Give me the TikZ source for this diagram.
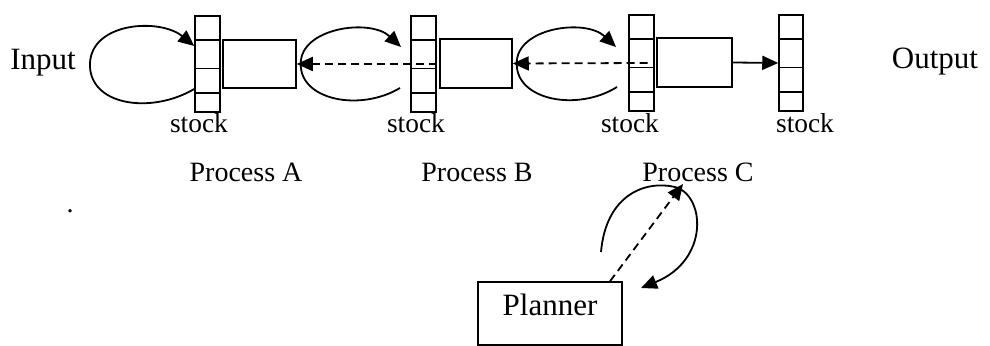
\documentclass[tikz,border=0pt]{standalone}
\usepackage{fontspec}
\setmainfont{Liberation Serif}
\usetikzlibrary{arrows.meta,calc}
\begin{document}
\begin{tikzpicture}[x=0.5pt,y=-0.5pt,
  stockbox/.style={draw,line width=0.75pt,minimum width=12.5pt,minimum height=48pt,inner sep=0pt},
  procbox/.style={draw,line width=0.75pt,inner sep=0pt},
  biglabel/.style={font=\fontsize{15.5}{18}\selectfont,inner sep=0pt},
  proclabel/.style={font=\fontsize{14}{17}\selectfont,inner sep=0pt},
  stocklabel/.style={font=\fontsize{13.7}{16}\selectfont,inner sep=0pt},
  flow/.style={line width=0.9pt,-{Triangle[length=8pt,width=7pt]}},
  dashflow/.style={flow,dash pattern=on 4pt off 2.5pt}]
\useasboundingbox (0,0) rectangle (990,346);

% stock buffers
\node[stockbox] (s1) at (207.5,64) {};
\node[stockbox] (s2) at (423.5,64) {};
\node[stockbox] (s3) at (641.5,63) {};
\node[stockbox,minimum width=12pt] (s4) at (791,63) {};
\foreach \s in {s1,s2,s3,s4}
  \foreach \f in {0.255,0.545,0.8}
    \draw[line width=0.75pt] ($(\s.north west)!\f!(\s.south west)$) -- ($(\s.north east)!\f!(\s.south east)$);

% process boxes
\node[procbox,minimum width=36.5pt,minimum height=24pt] (boxA) at (259.5,64) {};
\node[procbox,minimum width=36pt,minimum height=24.5pt] (boxB) at (476,63.5) {};
\node[procbox,minimum width=37.5pt,minimum height=24.5pt] (boxC) at (694.5,62.5) {};

% planner
\node[procbox,minimum width=72pt,minimum height=31.5pt] (planner) at (550,313.5) {};
\node[biglabel] (plannertext) at (550,305) {Planner};

% labels
\node[biglabel] (input) at (43,63) {Input};
\node[biglabel] (output) at (935,62) {Output};
\node[stocklabel] (st1) at (199,123) {stock};
\node[stocklabel] (st2) at (416,123) {stock};
\node[stocklabel] (st3) at (630,123) {stock};
\node[stocklabel] (st4) at (805,123) {stock};
\node[proclabel] (pA) at (246,172) {Process A};
\node[proclabel] (pB) at (477,172) {Process B};
\node[proclabel] (pC) at (698,172) {Process C};
\node[proclabel] (dot) at (70,211) {.};

% free ends of the feedback loops
\coordinate (abS) at (400,88);
\coordinate (abE) at (401,47);
\coordinate (bcS) at (617,87);
\coordinate (bcE) at (616,47);
\coordinate (pS) at (601,252);
\coordinate (pE) at (641,288);
\coordinate (tipC) at (683,184);

% material flow into process A
\draw[flow] ([yshift=-12.5pt]s1.west) .. controls (150,115) and (88,105) .. (90,63)
  .. controls (92,22) and (160,18) .. ([yshift=9pt]s1.west);
% loop between A and B
\draw[flow] (abS) .. controls (360,112) and (300,100) .. ([xshift=2pt]boxA.east)
  .. controls (300,28) and (370,18) .. (abE);
% loop between B and C
\draw[flow] (bcS) .. controls (577,112) and (516,100) .. ([xshift=2pt]boxB.east)
  .. controls (516,28) and (585,18) .. (bcE);

% information flow (dashed)
\draw[dashflow] (s2.east) -- (boxA.east);
\draw[dashflow] ([xshift=3pt]s3.center) -- (boxB.east);
\draw[flow] (boxC.east) -- (s4.west);

% planner feedback
\draw[dashflow] ([xshift=30pt]planner.north) -- (tipC);
\draw[flow] (pS) .. controls (606,195) and (645,180) .. (675,187)
  .. controls (705,195) and (710,260) .. (pE);
\end{tikzpicture}
\end{document}
